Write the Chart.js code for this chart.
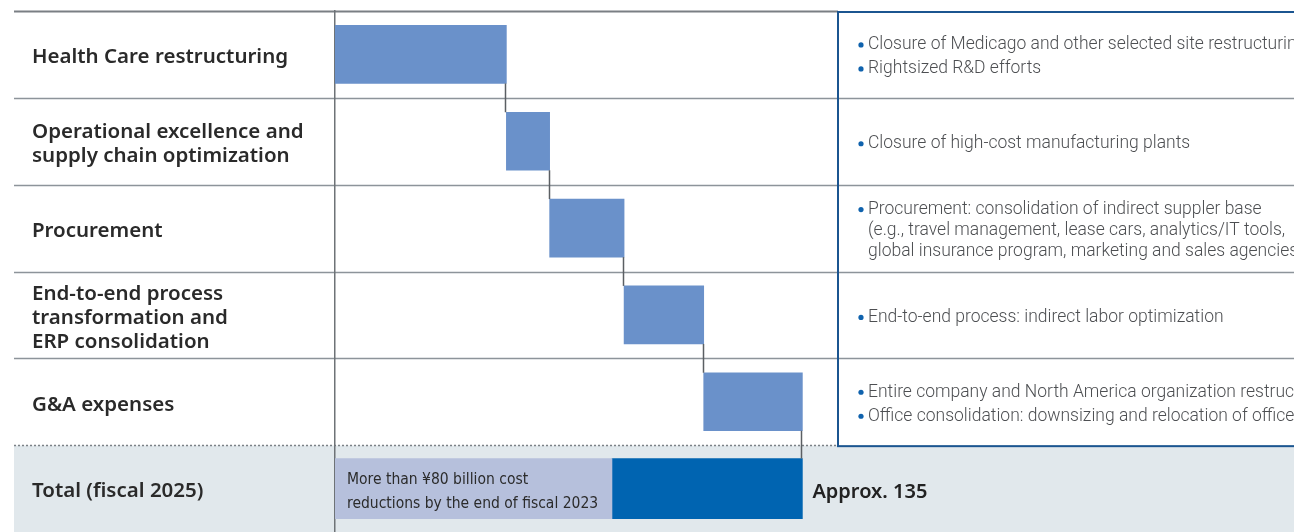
<!DOCTYPE html>
<html>
<head>
<meta charset="utf-8">
<script src="https://cdn.jsdelivr.net/npm/chart.js@4"></script>
<style>
  body { margin: 0; background: #fff; }
  #wrap { width: 1294px; height: 532px; position: relative; }
</style>
</head>
<body>
<div id="wrap"><canvas id="grafico"></canvas></div>
<script>
// dados (bilhoes de ienes)
const categorias = [
  'Health Care restructuring',
  ['Operational excellence and', 'supply chain optimization'],
  'Procurement',
  ['End-to-end process', 'transformation and', 'ERP consolidation'],
  'G&A expenses',
  'Total (fiscal 2025)'
];
const reducoes = [49.5, 12.5, 21.5, 23, 28.5];
const totalAte2023 = 80;
const totalFiscal2025 = 135;
const textoTotal = ['More than ¥80 billion cost', 'reductions by the end of fiscal 2023'];
const rotuloTotal = 'Approx. 135';
const notas = [
  [['Closure of Medicago and other selected site restructuring'], ['Rightsized R&D efforts']],
  [['Closure of high-cost manufacturing plants']],
  [['Procurement: consolidation of indirect suppler base', '(e.g., travel management, lease cars, analytics/IT tools,', 'global insurance program, marketing and sales agencies)']],
  [['End-to-end process: indirect labor optimization']],
  [['Entire company and North America organization restructuring'], ['Office consolidation: downsizing and relocation of offices']]
];

// degraus do waterfall
let acumulado = 0;
const degraus = reducoes.map(v => {
  const d = [acumulado, acumulado + v];
  acumulado += v;
  return d;
});
degraus.push(null);
const parte2023 = categorias.map((c, i) => i === categorias.length - 1 ? [0, totalAte2023] : null);
const parteRestante = categorias.map((c, i) => i === categorias.length - 1 ? [totalAte2023, totalFiscal2025] : null);

const caixaX = 838;

const decoracao = {
  id: 'decoracao',
  beforeDraw(chart) {
    const { ctx, scales: { y } } = chart;
    const passo = y.getPixelForValue(1) - y.getPixelForValue(0);
    const linha = i => Math.round(y.getPixelForValue(i) - passo / 2) + 0.5;
    ctx.save();
    // fundo da linha total
    const topoTotal = linha(categorias.length - 1);
    ctx.fillStyle = '#e1e8ec';
    ctx.fillRect(14, topoTotal, chart.width - 14, chart.height - topoTotal);
    // linhas das categorias
    ctx.strokeStyle = '#8d949a';
    ctx.lineWidth = 1.5;
    for (let i = 1; i < categorias.length - 1; i++) {
      ctx.beginPath();
      ctx.moveTo(14, linha(i));
      ctx.lineTo(chart.width, linha(i));
      ctx.stroke();
    }
    ctx.setLineDash([2, 2]);
    ctx.strokeStyle = '#7b8186';
    ctx.beginPath();
    ctx.moveTo(14, topoTotal);
    ctx.lineTo(caixaX, topoTotal);
    ctx.stroke();
    ctx.setLineDash([]);
    ctx.strokeStyle = '#7a7f84';
    ctx.lineWidth = 2;
    ctx.beginPath();
    ctx.moveTo(14, linha(0));
    ctx.lineTo(caixaX, linha(0));
    ctx.stroke();
    ctx.restore();
  },
  afterDatasetsDraw(chart) {
    const { ctx } = chart;
    const passos = chart.getDatasetMeta(0).data;
    const claro = chart.getDatasetMeta(1).data[categorias.length - 1];
    const escuro = chart.getDatasetMeta(2).data[categorias.length - 1];
    ctx.save();
    // conectores
    ctx.strokeStyle = '#5b5f63';
    ctx.lineWidth = 1.5;
    for (let i = 0; i < reducoes.length; i++) {
      const el = passos[i];
      const prox = i < reducoes.length - 1 ? passos[i + 1] : escuro;
      const x = Math.round(el.x) - 0.5;
      ctx.beginPath();
      ctx.moveTo(x, el.y + el.height / 2);
      ctx.lineTo(x, prox.y - prox.height / 2);
      ctx.stroke();
    }
    // texto dentro da barra clara
    ctx.fillStyle = '#2b2b2b';
    ctx.font = '15.5px "Liberation Sans Narrow", "DejaVu Sans Condensed", sans-serif';
    ctx.textBaseline = 'middle';
    ctx.fillText(textoTotal[0], claro.base + 12, claro.y - 9);
    ctx.fillText(textoTotal[1], claro.base + 12, claro.y + 15);
    // rotulo do total
    ctx.fillStyle = '#222';
    ctx.font = '600 20px "Noto Sans", sans-serif';
    ctx.fillText(rotuloTotal, escuro.x + 10, escuro.y + 4);
    ctx.restore();
  },
  afterDraw(chart) {
    const { ctx, scales: { y } } = chart;
    const passo = y.getPixelForValue(1) - y.getPixelForValue(0);
    ctx.save();
    // caixa azul
    ctx.strokeStyle = '#1b5590';
    ctx.lineWidth = 2;
    const topo = y.getPixelForValue(0) - passo / 2;
    const base = y.getPixelForValue(categorias.length - 1) - passo / 2;
    ctx.strokeRect(caixaX, topo + 1, chart.width, base - topo);
    // notas
    ctx.font = '300 17.5px Roboto, sans-serif';
    ctx.textBaseline = 'middle';
    notas.forEach((itens, i) => {
      const centro = y.getPixelForValue(i) + 2.5;
      const linhas = [];
      itens.forEach((item, k) => item.forEach((t, j) => linhas.push({ t, bala: j === 0, gap: j === 0 && k > 0 })));
      let altura = 0;
      linhas.forEach((l, j) => { if (j > 0) altura += l.gap ? 24 : 21; });
      let yy = centro - altura / 2;
      linhas.forEach((l, j) => {
        if (j > 0) yy += l.gap ? 24 : 21;
        if (l.bala) {
          ctx.fillStyle = '#0f62ad';
          ctx.beginPath();
          ctx.arc(861, yy, 2.6, 0, Math.PI * 2);
          ctx.fill();
        }
        ctx.fillStyle = '#4d4f52';
        ctx.fillText(l.t, 868, yy);
      });
    });
    ctx.restore();
  }
};

new Chart(document.getElementById('grafico'), {
  type: 'bar',
  data: {
    labels: categorias,
    datasets: [
      { label: 'Reduções', data: degraus, backgroundColor: '#6a91ca', barThickness: 58, grouped: false },
      { label: 'Até 2023', data: parte2023, backgroundColor: '#b6c0dc', barThickness: 60, grouped: false },
      { label: 'Total', data: parteRestante, backgroundColor: '#0064b1', barThickness: 60, grouped: false }
    ]
  },
  options: {
    indexAxis: 'y',
    responsive: true,
    maintainAspectRatio: false,
    animation: false,
    layout: { padding: { left: 32, top: 11, right: 0, bottom: 0 } },
    plugins: {
      legend: { display: false },
      tooltip: { enabled: false }
    },
    scales: {
      x: {
        display: false,
        min: 0,
        max: 277
      },
      y: {
        afterFit: (scale) => {
          scale.width = 303;
          scale.paddingTop = 0;
          scale.paddingBottom = 0;
        },
        grid: { display: false },
        border: { display: true, color: '#6e7377', width: 1.5 },
        ticks: {
          crossAlign: 'far',
          autoSkip: false,
          labelOffset: 3,
          color: '#2a2a2a',
          font: { family: '"Noto Sans", sans-serif', size: 20.5, weight: '600', lineHeight: 1.18 }
        }
      }
    }
  },
  plugins: [decoracao]
});
</script>
</body>
</html>
